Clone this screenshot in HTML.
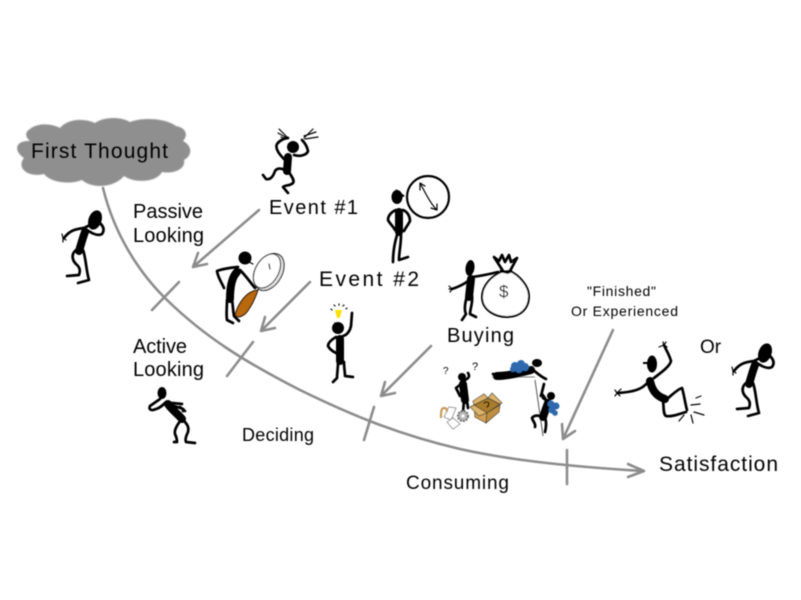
<!DOCTYPE html>
<html><head><meta charset="utf-8"><style>
html,body{margin:0;padding:0;background:#fff;width:801px;height:600px;overflow:hidden}
svg{display:block}
text{font-family:"Liberation Sans",sans-serif;fill:#000}
.g{fill:none;stroke:#8c8c8c;stroke-width:2.6;stroke-linecap:round;stroke-linejoin:round}
.l{fill:none;stroke:#000;stroke-width:2.7;stroke-linecap:round;stroke-linejoin:round}
.t{fill:none;stroke:#000;stroke-width:8;stroke-linecap:round;stroke-linejoin:round}
.s{fill:none;stroke:#000;stroke-width:1.2;stroke-linecap:round}
</style></head><body>
<svg width="801" height="600" viewBox="0 0 801 600" xmlns="http://www.w3.org/2000/svg">
<defs>
<filter id="b" x="-10%" y="-10%" width="120%" height="120%"><feGaussianBlur stdDeviation="0.45"/></filter>
<filter id="c" x="-10%" y="-10%" width="120%" height="120%"><feGaussianBlur stdDeviation="0.8"/></filter>
<g id="think">
<ellipse cx="95" cy="220" rx="6.5" ry="10" transform="rotate(20 95 220)" fill="#000"/>
<path class="t" d="M85 232C82 240 81 245 79 251"/>
<path class="l" d="M64 238C70 230 76 229 84 228L90 225"/>
<path class="l" d="M84 228C90 232 97 237 102 234C105 230 103 226 100 223"/>
<path class="s" d="M63 238L67 235M63 238L66 240M63 238L62 234M63 238L63 242"/>
<path class="l" d="M76 250C71 254 72 260 76 264C81 268 80 272 79 275L67 276"/>
<path class="l" d="M83 250C86 258 86 270 89 280L78 283"/>
</g>
</defs>

<path d="M30 129C38 122 53 124 60 128C66 120 82 117 95 123C103 117 120 116 130 122C142 117 166 118 176 126C187 128 188 136 183 141C193 146 192 156 184 160C186 170 172 174 162 172C156 183 134 183 124 176C114 188 92 189 82 180C72 184 52 184 44 174C28 178 16 168 24 158C14 152 14 140 30 141C24 136 26 131 30 129Z" fill="#8f8f8f" filter="url(#c)"/>

<g filter="url(#b)">
<path class="g" d="M103 188C114 233 138 272 167 300C205 337 245 362 300 390C345 412 395 434 460 449C505 459 560 466 643 471"/>
<path class="g" d="M628 464L644 471L628 477"/>
<path class="g" d="M179 282L152 310M253 342L227 376M374 407L364 440M567 450L567 484"/>
<path class="g" d="M259 210L193 267M207 264L193 267L198 253"/>
<path class="g" d="M310 282L261 331M275 328L261 331L265 317"/>
<path class="g" d="M431 346L381 396M395 393L381 396L385 382"/>
<path class="g" d="M613 330L563 439M575 431L563 439L562 424"/>

<use href="#think"/>
<use href="#think" transform="translate(670 133)"/>

<!-- panic -->
<circle cx="293" cy="147" r="6" fill="#000"/>
<path class="t" stroke-width="7" d="M288 157L287 171"/>
<path class="l" d="M284 159C278 153 275 148 277 144C280 140 285 138 288 138"/>
<path class="l" d="M294 155C300 157 307 155 308 151C307 146 304 142 302 140"/>
<path class="l" d="M285 170C281 168 277 168 275 171C273 177 270 180 266 179L263 175"/>
<path class="l" d="M289 172C291 176 295 180 293 183C290 186 285 185 283 187L288 193"/>
<path class="s" d="M287 137L279 129M287 138L278 133M286 139L281 137M304 138L313 129M305 139L318 137M304 136L316 132"/>

<!-- clock -->
<circle cx="428" cy="197" r="21" fill="none" stroke="#000" stroke-width="2.2"/>
<path class="s" stroke-width="1.5" d="M420 183C425 192 430 203 437 210M420 183L420 190M420 183L425 186M437 210L431 208M437 210L437 204"/>
<ellipse cx="397" cy="197" rx="5.5" ry="7" fill="#000"/>
<path fill="#000" d="M396 189L405 196L396 200Z"/>
<path class="t" d="M399 212L399 232"/>
<path class="l" d="M396 210C391 212 388 216 388 220C390 224 393 226 395 230"/>
<path class="l" d="M403 210C408 212 410 217 410 221C408 225 406 227 404 231"/>
<path class="l" d="M397 235C394 245 393 253 393 262M401 235C401 245 399 252 399 260L408 257"/>

<!-- magnifier -->
<circle cx="245" cy="258" r="6.5" fill="#000"/>
<path class="s" stroke-width="1.5" d="M249 262L253 264"/>
<path class="t" stroke-width="9" d="M237 272C232 277 230 287 230 299"/>
<path class="l" d="M238 267C228 268 222 269 217 271C218 278 222 283 224 288"/>
<path class="l" d="M240 270C246 276 250 282 255 288"/>
<path class="l" d="M227 300C227 307 226 314 227 320L233 323M232 300C233 306 233 311 234 316L239 321"/>
<path d="M258 290C246 291 238 304 235 315C238 319 245 316 249 309C253 303 256 296 258 290Z" fill="#b8680a" stroke="#000" stroke-width="1"/>
<ellipse cx="269" cy="272" rx="13" ry="20" transform="rotate(30 269 272)" fill="#e4e4e4" stroke="#333" stroke-width="1.2"/>
<ellipse cx="267" cy="271" rx="11.5" ry="18.5" transform="rotate(30 267 271)" fill="#fff" stroke="#333" stroke-width="1.2"/>
<path class="s" d="M269 264L270 269"/>

<!-- bulb -->
<circle cx="338" cy="328" r="6" fill="#000"/>
<path fill="#000" d="M334 322L344 327L338 332Z"/>
<path class="t" d="M340 339L340 361"/>
<path class="l" d="M336 337C331 340 328 343 328 346C330 350 334 352 338 354"/>
<path class="l" d="M343 336C347 335 350 331 351 326L352 313"/>
<path class="l" d="M338 362C338 368 337 374 337 378L333 382M344 362C344 368 345 372 345 376L353 377"/>
<path d="M335 310L342 310L340 317L339 318L337 318Z" fill="#ffe000"/>
<path class="s" stroke="#555" d="M332 310L331 309M335 306L334 305M339 305L339 304M343 306L344 305M346 309L347 308"/>

<!-- active -->
<ellipse cx="162" cy="393" rx="4.5" ry="6" fill="#000"/>
<path class="t" d="M168 404C172 410 178 414 182 419"/>
<path class="l" d="M160 399L150 406C148 410 152 411 156 409C160 408 163 405 166 402"/>
<path class="l" stroke-width="2" d="M172 403L182 404M174 406C180 408 186 409 183 411M180 407L185 411"/>
<path class="l" d="M181 420C177 425 174 430 175 434C177 438 177 440 177 442L174 442"/>
<path class="l" d="M184 421C188 425 189 428 188 432C186 436 185 440 186 442L195 443"/>

<!-- money -->
<ellipse cx="470" cy="268" rx="4.5" ry="8" fill="#000" transform="rotate(8 470 268)"/>
<path class="t" stroke-width="6" d="M471 279L469 297"/>
<path class="l" d="M468 281C463 285 458 287 452 289M472 277C480 276 490 274 498 272"/>
<path class="s" d="M452 289L449 286M452 289L449 289M452 289L450 292"/>
<path class="l" d="M467 296C465 303 464 310 466 314L462 320M472 296C473 303 470 309 470 314L476 317"/>
<path d="M501 272C492 276 482 285 482 297C482 310 495 317 507 317C520 317 529 309 529 296C529 286 519 275 510 271Z" fill="#fff" stroke="#000" stroke-width="2"/>
<path class="l" d="M501 271C508 273 508 273 511 271"/>
<path class="l" stroke-width="1.4" d="M503 271L494 257L499 261L502 255L505 262L509 255L511 262L517 258L510 271"/>
<text x="499" y="297" font-size="17">$</text>

<!-- confused -->
<circle cx="462" cy="377" r="4" fill="#000"/>
<path class="t" stroke-width="5" d="M463 384L465 400"/>
<path class="l" stroke-width="1.6" d="M461 384L456 388L460 396M465 380C469 378 470 376 468 373"/>
<path class="l" stroke-width="1.6" d="M464 401L463 412M467 401L468 408"/>
<text x="443" y="374" font-size="10">?</text>
<text x="472" y="370" font-size="11">?</text>

<!-- box -->
<path d="M474 405L488 398L500 404L487 413Z" fill="#a87c2c" stroke="#333" stroke-width=".7"/>
<path d="M474 406L487 413L486 423L475 417Z" fill="#cf9f52" stroke="#333" stroke-width=".7"/>
<path d="M487 413L500 405L499 412L486 423Z" fill="#c08e40" stroke="#333" stroke-width=".7"/>
<path d="M474 405L470 407L479 416L487 413Z" fill="#dcb36a" stroke="#333" stroke-width=".7"/>
<path d="M474 405L488 398L484 394L473 401Z" fill="#dcb36a" stroke="#333" stroke-width=".7"/>
<path d="M488 398L492 393L502 403L500 404Z" fill="#dcb36a" stroke="#333" stroke-width=".7"/>
<path class="s" stroke-width=".8" d="M484 403C488 400 491 404 487 407"/>

<!-- gear -->
<circle cx="463" cy="416" r="5" fill="#bbb" stroke="#666" stroke-width="2" stroke-dasharray="2 1"/>
<circle cx="463" cy="416" r="1.5" fill="#fff"/>
<!-- papers -->
<path d="M449 407L456 408L451 420L444 417Z" fill="#fff" stroke="#666" stroke-width=".7"/>
<path d="M447 422L453 418L460 424L453 429Z" fill="#fff" stroke="#666" stroke-width=".7"/>
<!-- cane -->
<path d="M441 418C441 412 441 408 444 408C447 408 447 410 447 412" fill="none" stroke="#c89a58" stroke-width="2.2"/>

<!-- climbers -->
<path stroke="#777" stroke-width="1" d="M492 377L535 377"/>
<path class="t" stroke-width="4.5" d="M497 376C507 376 520 373 531 370"/>
<path class="l" stroke-width="2" d="M493 374L503 376M495 378L503 378"/>
<ellipse cx="537" cy="363" rx="5" ry="4" fill="#000"/>
<path class="l" stroke-width="1.7" d="M532 369C537 373 541 377 546 379"/>
<g fill="#2f69ad"><circle cx="515" cy="366" r="4"/><circle cx="521" cy="364" r="4"/><circle cx="525" cy="367" r="4"/><circle cx="519" cy="369" r="4"/><circle cx="513" cy="369" r="3"/></g>
<path stroke="#555" stroke-width="1" d="M535 380L543 436" fill="none"/>
<circle cx="551" cy="396" r="4" fill="#000"/>
<path class="t" stroke-width="7" d="M548 403L543 417"/>
<path class="l" stroke-width="1.7" d="M546 400C543 395 541 392 541 396L544 384M552 404L543 398"/>
<path class="l" stroke-width="1.7" d="M543 417C539 415 534 415 532 418C533 422 536 423 535 427M545 417C547 423 546 428 545 432"/>
<g fill="#2f69ad"><circle cx="551" cy="404" r="3.5"/><circle cx="556" cy="406" r="3.5"/><circle cx="552" cy="410" r="3.5"/><circle cx="555" cy="413" r="2.8"/></g>

<!-- kick -->
<ellipse cx="652" cy="364" rx="5" ry="8.5" fill="#000"/>
<path stroke="#000" stroke-width="2" d="M643 363L650 363"/>
<path class="t" stroke-width="10" d="M650 381C652 390 656 396 665 399"/>
<path class="l" d="M648 382C642 390 632 392 618 393"/>
<path class="s" d="M617 393L621 389M617 393L615 390M617 393L615 396M617 393L620 396"/>
<path class="l" d="M654 378C662 372 670 366 671 361C669 354 666 350 664 345"/>
<path class="s" d="M664 345L659 347M664 345L663 342M664 345L666 342M664 345L667 347"/>
<path class="l" d="M663 401C664 408 663 414 666 416C672 417 679 414 686 412"/>
<path class="l" d="M667 399C673 394 678 389 682 388C684 394 685 403 687 410"/>
<path class="s" stroke-width="1.4" d="M679 421L684 415M693 423L691 415M704 415L694 412M700 404L691 405M701 396L696 398"/>

<g>
<text x="31" y="158" font-size="21" textLength="137" lengthAdjust="spacing">First Thought</text>
<text x="133" y="218" font-size="20" textLength="70" lengthAdjust="spacing">Passive</text>
<text x="133" y="242" font-size="20" textLength="71" lengthAdjust="spacing">Looking</text>
<text x="269" y="214" font-size="20" textLength="89" lengthAdjust="spacing">Event #1</text>
<text x="319" y="286" font-size="21" textLength="100" lengthAdjust="spacing">Event #2</text>
<text x="447" y="342" font-size="20" textLength="67" lengthAdjust="spacing">Buying</text>
<text x="587" y="296" font-size="14" textLength="69" lengthAdjust="spacing">"Finished"</text>
<text x="571" y="316" font-size="14" textLength="107" lengthAdjust="spacing">Or Experienced</text>
<text x="133" y="353" font-size="20" textLength="54" lengthAdjust="spacing">Active</text>
<text x="133" y="376" font-size="20" textLength="71" lengthAdjust="spacing">Looking</text>
<text x="242" y="441" font-size="18" textLength="72" lengthAdjust="spacing">Deciding</text>
<text x="406" y="489" font-size="19" textLength="103" lengthAdjust="spacing">Consuming</text>
<text x="659" y="471" font-size="21" textLength="119" lengthAdjust="spacing">Satisfaction</text>
<text x="700" y="353" font-size="19">Or</text>
</g>
</g>
</svg>
</body></html>
